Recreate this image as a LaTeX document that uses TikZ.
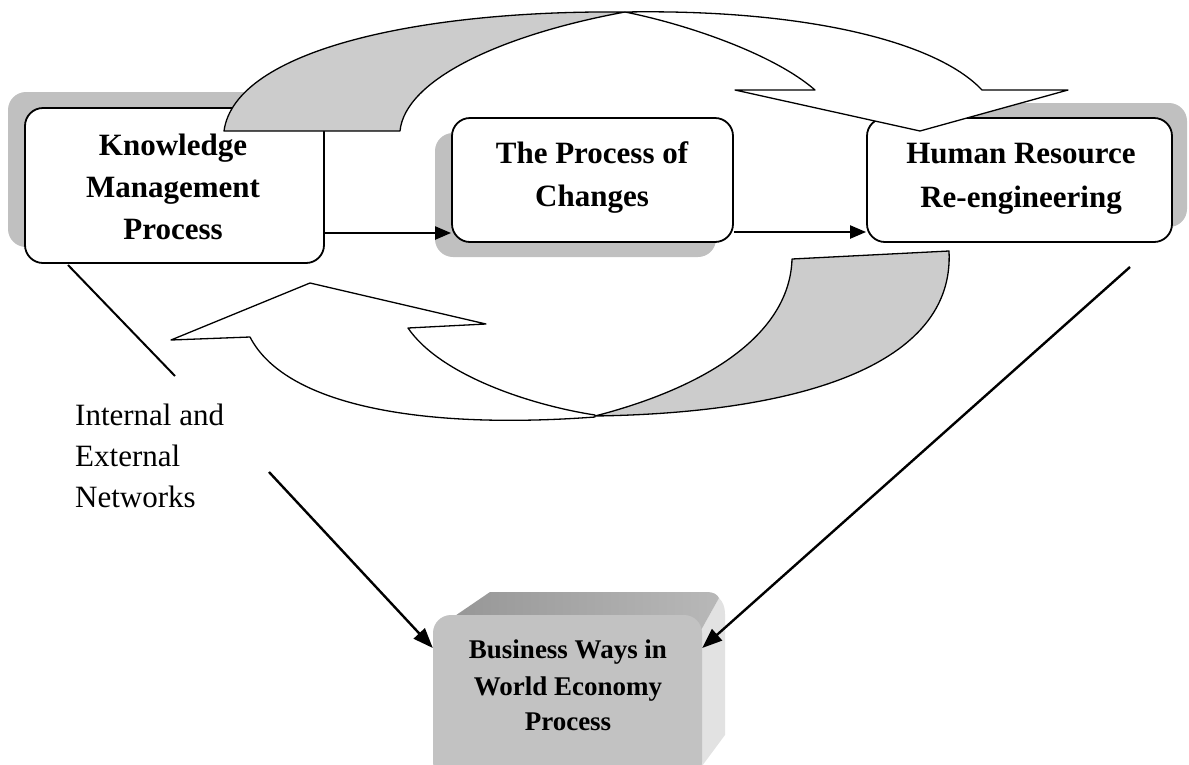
\documentclass[tikz,border=0pt]{standalone}
\usepackage{fontspec}
\setmainfont{Liberation Serif}
\usetikzlibrary{arrows.meta}
\definecolor{shadowgray}{HTML}{C0C0C0}
\definecolor{bandgray}{HTML}{CCCCCC}
\definecolor{frontgray}{HTML}{C2C2C2}
\definecolor{topdark}{HTML}{969696}
\definecolor{toplight}{HTML}{B8B8B8}
\definecolor{sidegray}{HTML}{E2E2E2}
\begin{document}
\begin{tikzpicture}[x=1pt,y=-1pt,
  procbox/.style={draw, line width=1.8pt, rounded corners=18pt, fill=white, inner sep=0pt},
  shadowfill/.style={fill=shadowgray, rounded corners=18pt},
  boxtext/.style={font=\fontsize{31}{40}\selectfont\bfseries, anchor=base, inner sep=0pt},
  smalltext/.style={font=\fontsize{27}{36}\selectfont\bfseries, anchor=base, inner sep=0pt},
  plaintext/.style={font=\fontsize{31}{40}\selectfont, anchor=base west, inner sep=0pt},
  bandline/.style={draw, line width=1.3pt, line join=round},
  conn/.style={line width=2.2pt, -{Triangle[length=16pt,width=13pt]}},
  conn2/.style={line width=2.4pt, -{Triangle[length=20pt,width=15pt]}},
  plainline/.style={line width=2pt}
]
\useasboundingbox (0,0) rectangle (1189,764);
\coordinate (y233) at (0,233);
\coordinate (y232) at (0,232);
\coordinate (y648) at (0,648);

% shadows
\fill[shadowfill] (8,92) rectangle (307,247);
\fill[shadowfill] (435,133) rectangle (716,257);
\fill[shadowfill] (882,103) rectangle (1187,227);

% boxes
\node[procbox, minimum width=299pt, minimum height=155pt] (KM) at (174.5,185.5) {};
\node[procbox, minimum width=281pt, minimum height=124pt] (PC) at (592.5,180) {};
\node[procbox, minimum width=305pt, minimum height=124pt] (HR) at (1019.5,180) {};

% bottom curved arrow
\draw[bandline, fill=white] (595,415) .. controls (530,405) and (440,375) .. (408,328)
  -- (486,324) -- (310,283) -- (171,340) -- (250,337)
  .. controls (285,405) and (420,430) .. (595,417) -- cycle;
\draw[bandline, fill=bandgray] (595,416) .. controls (800,413) and (955,365) .. (949,251)
  -- (792,259) .. controls (790,330) and (715,385) .. (595,416) -- cycle;

% top curved arrow
\draw[bandline, fill=bandgray] (224,131) .. controls (235,50) and (420,10) .. (625,12)
  .. controls (500,35) and (405,80) .. (400,131) -- cycle;
\draw[bandline, fill=white] (625,12) .. controls (800,9) and (935,40) .. (982,90)
  -- (1068,90) -- (920,131) -- (735,90) -- (815,90)
  .. controls (775,55) and (690,25) .. (625,12) -- cycle;

% horizontal connectors
\draw[conn] (KM.east |- y233) -- (PC.west |- y233);
\draw[conn] (PC.east |- y232) -- (HR.west |- y232);

% bottom 3D box
\fill[sidegray] (700,632) -- (719,598) .. controls (723,602) and (725,607) .. (725,614)
  -- (725,735) -- (702,766) -- cycle;
\shade[left color=topdark, right color=toplight] (446,622) -- (490,592) -- (707,592)
  .. controls (713,592) and (717,594) .. (719,598) -- (700,632) -- cycle;
\node[fill=frontgray, rounded corners=18pt, minimum width=269pt, minimum height=165pt, inner sep=0pt] (BW) at (567.5,697.5) {};

% lines to bottom box
\coordinate (l1) at (68,265);
\coordinate (l2) at (175,376);
\draw[plainline] (l1) -- (l2);
\coordinate (a1) at (269,472);
\draw[conn2] (a1) -- (BW.west |- y648);
\coordinate (a2) at (1130,267);
\draw[conn2] (a2) -- (BW.east |- y648);

% texts
\node[boxtext] (t1) at (173,155) {Knowledge};
\node[boxtext] (t2) at (173,197) {Management};
\node[boxtext] (t3) at (173,239) {Process};
\node[boxtext] (t4) at (592,163) {The Process of};
\node[boxtext] (t5) at (592,206) {Changes};
\node[boxtext] (t6) at (1021,163) {Human Resource};
\node[boxtext] (t7) at (1021,207) {Re-engineering};
\node[smalltext] (t8) at (568,658) {Business Ways in};
\node[smalltext] (t9) at (568,695) {World Economy};
\node[smalltext] (t10) at (568,730) {Process};
\node[plaintext] (t11) at (75,425) {Internal and};
\node[plaintext] (t12) at (75,466) {External};
\node[plaintext] (t13) at (75,507) {Networks};
\end{tikzpicture}
\end{document}
